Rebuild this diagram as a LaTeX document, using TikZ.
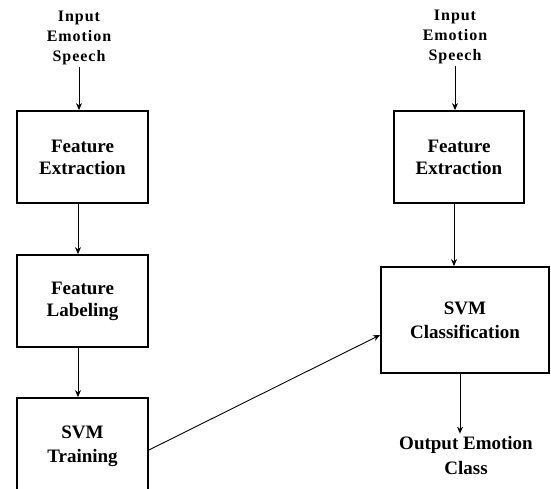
\documentclass[tikz,border=0pt]{standalone}
\usepackage{fontspec}
\setmainfont{Liberation Serif}
\usetikzlibrary{arrows.meta}
\begin{document}
\begin{tikzpicture}[x=1pt,y=-1pt,
  box/.style={draw, line width=1.8pt, minimum width=131pt, minimum height=92pt, inner sep=0pt, align=center,
    font=\fontsize{19}{22}\selectfont\bfseries},
  intext/.style={align=center, inner sep=2pt, font=\fontsize{16}{20}\selectfont\bfseries\addfontfeature{LetterSpace=6}},
  outtext/.style={align=center, inner sep=2pt, font=\fontsize{19}{25}\selectfont\bfseries},
  arr/.style={line width=0.9pt, -{Stealth[length=7pt,width=6pt]}}]
\useasboundingbox (0,0) rectangle (551,488);
\clip (0,0) rectangle (551,488);
% left column
\node[intext] (in1) at (79,38) {Input\\Emotion\\Speech};
\node[box] (fe1) at (82.5,157) {Feature\\Extraction};
\node[box] (fl) at (82.5,301) {Feature\\Labeling};
\node[box, minimum height=96pt] (train) at (82.5,446) {SVM\\[2pt]Training};
% right column
\node[intext] (in2) at (455,37) {Input\\Emotion\\Speech};
\node[box, minimum width=130pt] (fe2) at (459,157) {Feature\\Extraction};
\node[box, minimum width=168pt, minimum height=106pt] (cls) at (465,320) {SVM\\[2pt]Classification};
\node[outtext] (out) at (466,455) {Output Emotion\\Class};
% connectors
\draw[arr] (in1.south) -- (in1.south |- fe1.north);
\draw[arr] ([xshift=-4.5pt]fe1.south) -- ([xshift=-4.5pt]fl.north);
\draw[arr] ([xshift=-4.5pt]fl.south) -- ([xshift=-4.5pt]train.north);
\draw[arr] (in2.south) -- (in2.south |- fe2.north);
\draw[arr] ([xshift=-5pt]fe2.south) -- ([xshift=-5pt]fe2.south |- cls.north);
\draw[arr] ([xshift=-5pt]cls.south) -- ([xshift=-5pt]cls.south |- out.north);
\draw[arr] ([yshift=-4pt]train.east) -- ([yshift=-15pt]cls.west);
\end{tikzpicture}
\end{document}
